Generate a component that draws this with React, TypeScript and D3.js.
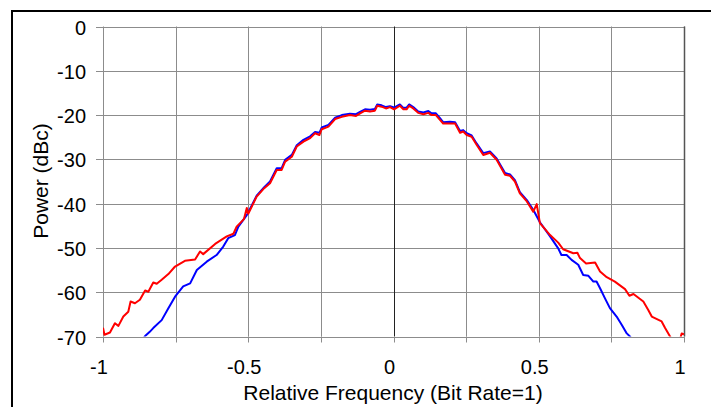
import React, { useEffect, useRef } from 'react';
import * as d3 from 'd3';

// Chart values
const redFreq = [
  -1.0, -0.995, -0.976, -0.959, -0.947, -0.93, -0.913, -0.905, -0.89, -0.873,
  -0.855, -0.844, -0.827, -0.815, -0.798, -0.775, -0.752, -0.718, -0.683, -0.666,
  -0.655, -0.614, -0.574, -0.551, -0.54, -0.515, -0.505, -0.5, -0.471, -0.445,
  -0.425, -0.402, -0.385, -0.373, -0.35, -0.333, -0.31, -0.287, -0.27, -0.255,
  -0.247, -0.224, -0.201, -0.178, -0.15, -0.129, -0.115, -0.098, -0.081, -0.064,
  -0.056, -0.041, -0.026, -0.012, 0.002, 0.022, 0.034, 0.045, 0.054, 0.068,
  0.085, 0.103, 0.12, 0.131, 0.146, 0.16, 0.171, 0.194, 0.212, 0.229,
  0.24, 0.252, 0.269, 0.286, 0.309, 0.332, 0.355, 0.384, 0.401, 0.418,
  0.435, 0.459, 0.481, 0.493, 0.504, 0.539, 0.567, 0.584, 0.619, 0.633,
  0.642, 0.663, 0.694, 0.711, 0.734, 0.762, 0.797, 0.812, 0.826, 0.86,
  0.877, 0.889, 0.923, 0.935, 0.952, 0.965, 0.985, 0.992, 1.0,
];
const redPower = [
  -68.0, -69.6, -69.1, -67.0, -67.6, -65.5, -64.4, -62.1, -62.5, -61.7,
  -59.6, -59.9, -57.8, -58.1, -57.2, -55.9, -54.2, -52.9, -52.6, -50.8,
  -51.4, -49.1, -47.4, -46.8, -45.2, -43.5, -41.0, -42.3, -38.4, -36.5,
  -35.4, -32.4, -32.4, -30.5, -29.4, -27.1, -26.0, -25.2, -24.1, -24.5,
  -23.2, -22.6, -20.9, -20.4, -20.0, -20.2, -19.6, -19.0, -19.2, -19.0,
  -17.9, -18.1, -18.5, -18.2, -18.7, -17.9, -18.7, -18.7, -17.9, -18.5,
  -19.5, -19.8, -19.5, -20.0, -20.0, -21.1, -21.9, -21.9, -21.9, -24.0,
  -23.7, -24.5, -24.9, -26.7, -29.0, -28.5, -30.1, -33.5, -33.7, -35.0,
  -37.7, -39.5, -41.8, -40.1, -44.4, -47.1, -48.8, -50.3, -51.2, -51.1,
  -52.3, -53.5, -53.3, -55.3, -56.6, -57.6, -59.3, -60.8, -60.4, -62.1,
  -64.0, -65.5, -66.6, -68.1, -70.0, -71.5, -71.0, -69.3, -69.5,
];

const blueFreq = [
  -0.865, -0.855, -0.84, -0.827, -0.798, -0.775, -0.752, -0.724, -0.7, -0.677,
  -0.643, -0.609, -0.586, -0.569, -0.546, -0.534, -0.505, -0.471, -0.445, -0.425,
  -0.402, -0.385, -0.373, -0.35, -0.333, -0.31, -0.287, -0.27, -0.255, -0.247,
  -0.224, -0.201, -0.178, -0.15, -0.129, -0.115, -0.098, -0.081, -0.064, -0.056,
  -0.041, -0.026, -0.012, 0.002, 0.022, 0.034, 0.045, 0.054, 0.068, 0.085,
  0.103, 0.12, 0.131, 0.146, 0.16, 0.171, 0.194, 0.212, 0.229, 0.24,
  0.252, 0.269, 0.286, 0.309, 0.332, 0.355, 0.384, 0.401, 0.418, 0.435,
  0.459, 0.481, 0.504, 0.539, 0.567, 0.578, 0.596, 0.613, 0.636, 0.653,
  0.671, 0.688, 0.699, 0.711, 0.728, 0.745, 0.768, 0.786, 0.803, 0.814,
  0.825,
];
const bluePower = [
  -70.8, -69.9, -69.0, -68.1, -66.3, -63.6, -61.0, -58.7, -58.0, -55.0,
  -53.1, -51.6, -49.7, -47.8, -47.1, -45.2, -42.6, -38.2, -36.3, -35.0,
  -32.0, -32.0, -30.1, -29.0, -26.8, -25.6, -24.8, -23.8, -24.0, -22.8,
  -22.2, -20.6, -20.0, -19.7, -19.8, -19.3, -18.7, -18.8, -18.6, -17.6,
  -17.8, -18.2, -18.0, -18.3, -17.6, -18.4, -18.3, -17.6, -18.2, -19.2,
  -19.4, -19.1, -19.6, -19.6, -20.7, -21.6, -21.5, -21.6, -23.6, -23.4,
  -24.1, -24.6, -26.4, -28.6, -28.2, -29.8, -33.1, -33.4, -34.7, -37.4,
  -39.2, -41.4, -44.2, -47.4, -50.1, -51.6, -51.6, -52.7, -53.8, -56.1,
  -56.3, -57.6, -57.6, -59.1, -61.4, -63.6, -65.5, -67.4, -69.3, -70.0,
  -71.0,
];

const xTickValues = [-1, -0.75, -0.5, -0.25, 0, 0.25, 0.5, 0.75, 1];
const xTickLabels = ['-1', '', '-0.5', '', '0', '', '0.5', '', '1'];
const yTickValues = [0, -10, -20, -30, -40, -50, -60, -70];

const width = 711;
const height = 407;
const plot = {
  left: 103, right: 684, top: 26.5, bottom: 336.5,
};
const font = '"Liberation Sans", Arial, sans-serif';

const App: React.FC = () => {
  const svgRef = useRef<SVGSVGElement>(null);

  useEffect(() => {
    const svg = d3.select(svgRef.current);
    svg.selectAll('*').remove();

    const x = d3.scaleLinear().domain([-1, 1]).range([plot.left, plot.right]);
    const y = d3.scaleLinear().domain([-70, 0]).range([plot.bottom, plot.top]);

    // Outer frame (only left and top edges visible)
    svg.append('path')
      .attr('d', `M12,${height} L12,11 L${width},11`)
      .attr('fill', 'none')
      .attr('stroke', '#000')
      .attr('stroke-width', 2);

    // Horizontal grid lines
    svg.append('g')
      .selectAll('line')
      .data(yTickValues)
      .join('line')
      .attr('x1', plot.left)
      .attr('x2', plot.right)
      .attr('y1', (d) => Math.round(y(d)) + 0.5)
      .attr('y2', (d) => Math.round(y(d)) + 0.5)
      .attr('stroke', '#8c8c8c')
      .attr('stroke-width', 1);

    // Vertical grid lines
    svg.append('g')
      .selectAll('line')
      .data(xTickValues)
      .join('line')
      .attr('x1', (d) => Math.round(x(d)) + 0.5)
      .attr('x2', (d) => Math.round(x(d)) + 0.5)
      .attr('y1', plot.top)
      .attr('y2', plot.bottom)
      .attr('stroke', (d) => (d === 0 ? '#222' : '#8c8c8c'))
      .attr('stroke-width', 1);

    // Right border, a bit darker
    svg.append('line')
      .attr('x1', Math.round(x(1)) + 0.5)
      .attr('x2', Math.round(x(1)) + 0.5)
      .attr('y1', plot.top)
      .attr('y2', plot.bottom)
      .attr('stroke', '#555')
      .attr('stroke-width', 1.5);

    // Y axis ticks and labels
    const yAxis = svg.append('g');
    yAxis.selectAll('line')
      .data(yTickValues)
      .join('line')
      .attr('x1', plot.left - 7)
      .attr('x2', plot.left)
      .attr('y1', (d) => Math.round(y(d)) + 0.5)
      .attr('y2', (d) => Math.round(y(d)) + 0.5)
      .attr('stroke', '#8c8c8c');
    yAxis.selectAll('text')
      .data(yTickValues)
      .join('text')
      .attr('x', 86)
      .attr('y', (d) => y(d) + 8)
      .attr('text-anchor', 'end')
      .attr('font-family', font)
      .attr('font-size', 20)
      .attr('fill', '#000')
      .text((d) => String(d));

    // X axis ticks and labels
    const xAxis = svg.append('g');
    xAxis.selectAll('line')
      .data(xTickValues)
      .join('line')
      .attr('x1', (d) => Math.round(x(d)) + 0.5)
      .attr('x2', (d) => Math.round(x(d)) + 0.5)
      .attr('y1', plot.bottom)
      .attr('y2', plot.bottom + 6)
      .attr('stroke', '#8c8c8c');
    xAxis.selectAll('text')
      .data(xTickValues)
      .join('text')
      .attr('x', (d) => x(d) - 4)
      .attr('y', 374)
      .attr('text-anchor', 'middle')
      .attr('font-family', font)
      .attr('font-size', 20)
      .attr('fill', '#000')
      .text((_d, i) => xTickLabels[i]);

    // Axis titles
    svg.append('text')
      .attr('x', 393)
      .attr('y', 400)
      .attr('text-anchor', 'middle')
      .attr('font-family', font)
      .attr('font-size', 21)
      .attr('fill', '#000')
      .text('Relative Frequency (Bit Rate=1)');
    svg.append('text')
      .attr('transform', 'translate(48,181) rotate(-90)')
      .attr('text-anchor', 'middle')
      .attr('font-family', font)
      .attr('font-size', 21)
      .attr('fill', '#000')
      .text('Power (dBc)');

    // Clip the traces to the plot area
    svg.append('clipPath')
      .attr('id', 'plot-clip')
      .append('rect')
      .attr('x', plot.left)
      .attr('y', plot.top)
      .attr('width', plot.right - plot.left)
      .attr('height', plot.bottom - plot.top);

    const traces = svg.append('g').attr('clip-path', 'url(#plot-clip)');

    const blueLine = d3.line<number>()
      .x((d) => x(d))
      .y((_d, i) => y(bluePower[i]));
    traces.append('path')
      .attr('d', blueLine(blueFreq))
      .attr('fill', 'none')
      .attr('stroke', '#0000ff')
      .attr('stroke-width', 2)
      .attr('stroke-linejoin', 'round');

    const redLine = d3.line<number>()
      .x((d) => x(d))
      .y((_d, i) => y(redPower[i]));
    traces.append('path')
      .attr('d', redLine(redFreq))
      .attr('fill', 'none')
      .attr('stroke', '#ff0000')
      .attr('stroke-width', 2)
      .attr('stroke-linejoin', 'round');
  }, []);

  return (
    <svg
      ref={svgRef}
      width={width}
      height={height}
      style={{ position: 'absolute', left: 0, top: 0, background: '#fff' }}
    />
  );
};

export default App;
